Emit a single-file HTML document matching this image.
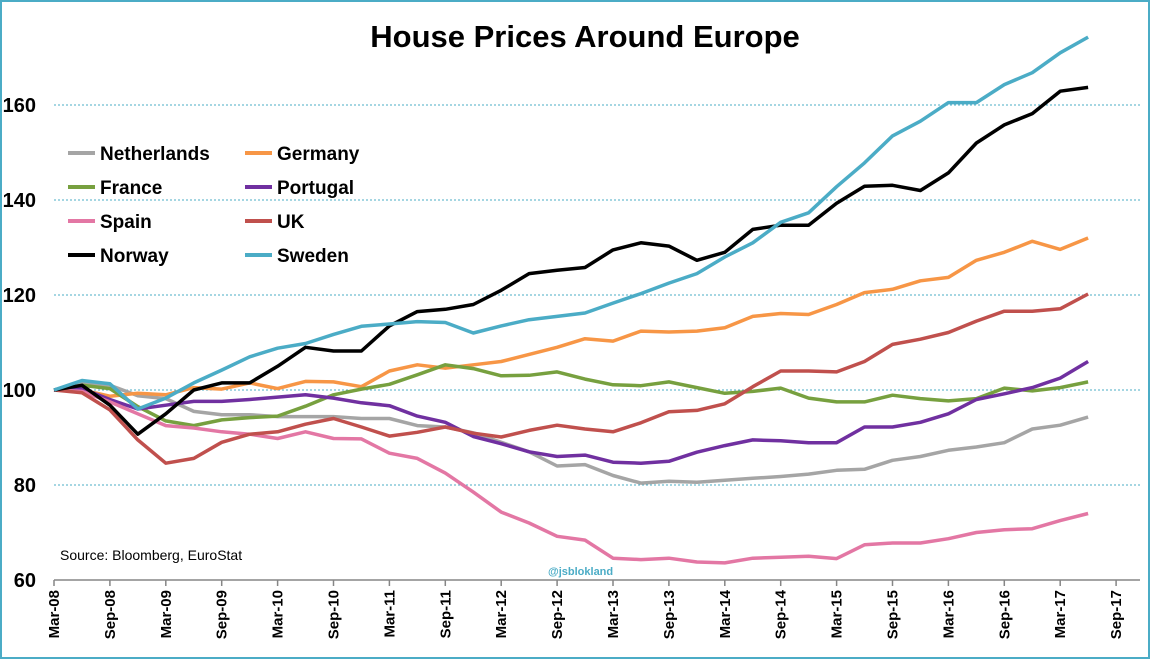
<!DOCTYPE html>
<html><head><meta charset="utf-8"><style>
html,body{margin:0;padding:0;background:#fff}
svg{display:block;font-family:"Liberation Sans",sans-serif}
</style></head><body>
<svg id="c" width="1150" height="659">
<rect x="1" y="1" width="1148" height="657" fill="#fff" stroke="#4bacc6" stroke-width="2"/>
<text x="585" y="47" text-anchor="middle" font-size="31" font-weight="bold" fill="#000">House Prices Around Europe</text>
<g id="grid"></g><g id="axes"></g><g id="lines"></g><g id="legend"></g>
<text x="60" y="560" font-size="14" fill="#000">Source: Bloomberg,  EuroStat</text>
<text x="548" y="575" font-size="11" font-weight="bold" fill="#4bacc6">@jsblokland</text>
</svg>
<script>
const xLabels=["Mar-08","Sep-08","Mar-09","Sep-09","Mar-10","Sep-10","Mar-11","Sep-11","Mar-12","Sep-12","Mar-13","Sep-13","Mar-14","Sep-14","Mar-15","Sep-15","Mar-16","Sep-16","Mar-17","Sep-17"];
const yTicks=[60,80,100,120,140,160];
const seriesNames=["Netherlands","Germany","France","Portugal","Spain","UK","Norway","Sweden"];
const seriesColors=["#a5a5a5","#f79646","#77a03f","#7030a0","#e377a4","#c0504d","#000000","#4bacc6"];
const netherlands=[100,101.5,101,98.8,98.2,95.5,94.8,94.8,94.4,94.4,94.4,94,94,92.5,92.2,91,89,87,84,84.3,82,80.4,80.8,80.6,81,81.4,81.8,82.3,83.1,83.3,85.2,86,87.3,88,88.9,91.8,92.6,94.3];
const germany=[100,100,98.7,99.3,99,100.5,100.2,101.5,100.3,101.8,101.7,100.7,104,105.3,104.6,105.3,106,107.5,109,110.8,110.3,112.4,112.2,112.4,113.1,115.5,116.1,115.9,118,120.5,121.2,123,123.7,127.3,129,131.3,129.6,132];
const france=[100,101,100.3,96.5,93.5,92.5,93.7,94.2,94.5,96.6,99,100.2,101.2,103.2,105.3,104.5,103,103.1,103.8,102.3,101.1,100.9,101.7,100.5,99.3,99.7,100.4,98.3,97.5,97.5,98.9,98.2,97.7,98.2,100.4,99.8,100.5,101.7];
const portugal=[100,100.3,98,96,96.8,97.6,97.6,98,98.5,99,98.3,97.3,96.7,94.5,93.2,90.2,88.7,87,86,86.3,84.8,84.6,85,86.9,88.3,89.5,89.3,88.9,88.9,92.2,92.2,93.2,95,98,99.2,100.5,102.5,106];
const spain=[100,99.7,97.5,95,92.5,92,91.2,90.7,89.8,91.2,89.8,89.7,86.7,85.6,82.5,78.5,74.3,72,69.2,68.4,64.6,64.3,64.6,63.8,63.6,64.6,64.8,65,64.5,67.4,67.8,67.8,68.7,70,70.6,70.8,72.5,74];
const uk=[100,99.4,95.8,89.5,84.6,85.6,89,90.7,91.2,92.8,94,92.2,90.3,91.1,92.2,90.9,90.1,91.5,92.6,91.8,91.2,93.1,95.4,95.7,97.1,100.7,104,104,103.8,106,109.6,110.7,112.1,114.5,116.6,116.6,117.1,120.2];
const norway=[100,101,96.8,90.7,95,100,101.5,101.5,105,109,108.2,108.2,113.5,116.5,117,118,121,124.5,125.2,125.8,129.5,131,130.3,127.3,129,133.8,134.7,134.7,139.3,142.9,143.1,142,145.7,152,155.8,158.2,162.9,163.7];
const sweden=[100,102,101.3,96,98.3,101.5,104.2,107,108.8,109.8,111.7,113.4,113.9,114.4,114.2,112,113.5,114.8,115.5,116.2,118.3,120.3,122.5,124.5,128,131,135.3,137.3,142.8,147.8,153.5,156.6,160.5,160.5,164.3,166.8,171,174.3];
const allSeries=[netherlands,germany,france,portugal,spain,uk,norway,sweden];

const NS="http://www.w3.org/2000/svg";
const X0=54,QSTEP=27.95,Y100=390,PXU=4.75;
const xq=i=>X0+i*QSTEP;
const yv=v=>Y100-(v-100)*PXU;
function mk(tag,attrs,parent){const e=document.createElementNS(NS,tag);for(const k in attrs)e.setAttribute(k,attrs[k]);parent.appendChild(e);return e;}
const grid=document.getElementById('grid'),axes=document.getElementById('axes'),lines=document.getElementById('lines'),legend=document.getElementById('legend');
yTicks.forEach(t=>{
  if(t>60){const g=mk('line',{x1:X0,x2:1140,y1:yv(t),y2:yv(t),stroke:'#4bacc6','stroke-width':1,'stroke-dasharray':'2,2'},grid);
  
  }
  const l=mk('text',{x:36,y:yv(t)+7,'text-anchor':'end','font-size':20,'font-weight':'bold',fill:'#000'},axes);
  l.textContent=t;
  
  
});
const ax=mk('line',{x1:X0,x2:1140,y1:yv(60),y2:yv(60),stroke:'#868686','stroke-width':1.5},axes);


xLabels.forEach((lab,j)=>{
  const x=xq(j*2);
  const tk=mk('line',{x1:x,x2:x,y1:580,y2:586,stroke:'#868686','stroke-width':1.5},axes);
  
  
  const t=mk('text',{x:0,y:0,'text-anchor':'end','font-size':15,'font-weight':'bold',fill:'#000',transform:`translate(${x+5},590) rotate(-90)`},axes);
  t.textContent=lab;
  
  
});
allSeries.forEach((s,k)=>{
  const p=mk('polyline',{points:s.map((v,i)=>xq(i).toFixed(1)+','+yv(v).toFixed(1)).join(' '),fill:'none',stroke:seriesColors[k],'stroke-width':3.5,'stroke-linejoin':'round'},lines);
  
  
});
seriesNames.forEach((n,k)=>{
  const col=k%2,row=Math.floor(k/2);
  const lx=col?245:68,ly=153+row*34;
  const g=mk('g',{},legend);
  
  
  mk('line',{x1:lx,x2:lx+27,y1:ly,y2:ly,stroke:seriesColors[k],'stroke-width':4},g);
  const t=mk('text',{x:lx+32,y:ly+7,'font-size':19,'font-weight':'bold',fill:'#000'},g);
  t.textContent=n;
});
</script>
</body></html>
